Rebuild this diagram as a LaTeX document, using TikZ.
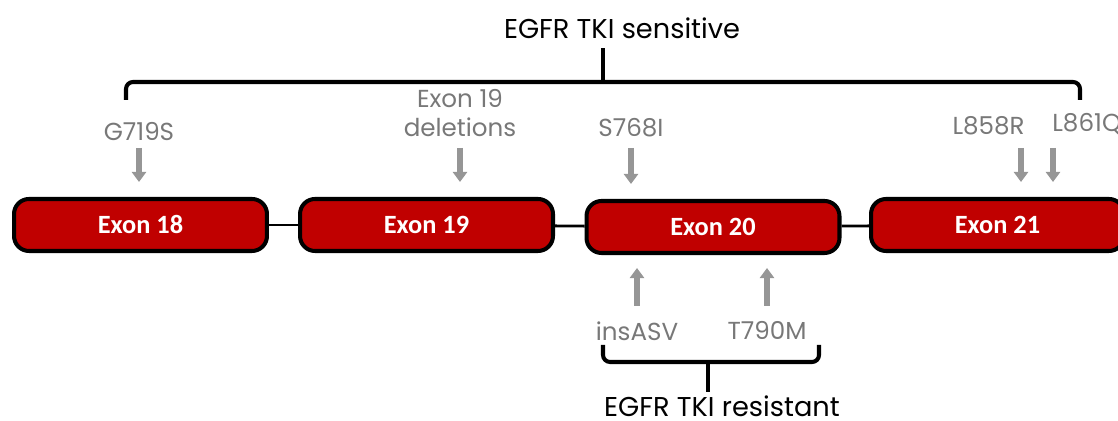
\documentclass[tikz,border=0pt]{standalone}
\usepackage{fontspec}
\setmainfont{Poppins}
\newfontfamily\exonfont{Carlito}
\usetikzlibrary{arrows.meta}
\definecolor{exonred}{RGB}{192,0,0}
\definecolor{mutgray}{RGB}{120,120,120}
\definecolor{arrowgray}{RGB}{150,150,150}

\begin{document}
\begin{tikzpicture}[x = 0.02cm, y = -0.02cm]
\tikzstyle{ExonStyle} = [shape = rectangle, rounded corners = 0.3cm, minimum width = 5.06cm, minimum height = 1.04cm, draw = black, line width = 2.3pt, fill = exonred, text = white, font = \exonfont\bfseries\fontsize{15}{18}\selectfont]
\tikzstyle{MutStyle} = [text = mutgray, font = \fontsize{14}{16.4}\selectfont, align = center, inner sep = 0pt]
\tikzstyle{HeadStyle} = [font = \fontsize{15.5}{18}\selectfont, inner sep = 0pt]
\tikzstyle{EdgeStyle} = [line width = 1.6pt]
\tikzstyle{BraceStyle} = [line width = 2.3pt, rounded corners = 4pt]
\tikzstyle{ArrowStyle} = [line width = 3pt, draw = arrowgray, -{Triangle[width = 0.28cm, length = 0.2cm]}]
\useasboundingbox (0,0) rectangle (1118,421);
% exons
\node[ExonStyle] (e18) at (140.5,225) {Exon 18};
\node[ExonStyle] (e19) at (426.5,225) {Exon 19};
\node[ExonStyle] (e20) at (713,227) {Exon 20};
\node[ExonStyle] (e21) at (997.5,225) {Exon 21};
\draw[EdgeStyle] (e18) -- (e19);
\draw[EdgeStyle] (e19) -- (e20);
\draw[EdgeStyle] (e20) -- (e21);
% mutations
\node[MutStyle, anchor = south] (g719s) at (139,141) {G719S};
\node[MutStyle, anchor = south] (del19) at (460,137) {Exon 19\\deletions};
\node[MutStyle, anchor = south] (s768i) at (631,137) {S768I};
\node[MutStyle, anchor = south east] (l858r) at (1025,135) {L858R};
\node[MutStyle, anchor = south west] (l861q) at (1052,135) {L861Q};
\node[MutStyle, anchor = north] (insasv) at (637,321) {insASV};
\node[MutStyle, anchor = north] (t790m) at (767,321) {T790M};
\draw[ArrowStyle, shorten < = 0.14cm, shorten > = 0.3cm] (g719s.south) -- (g719s.south |- e18.north);
\draw[ArrowStyle, shorten < = 0.22cm, shorten > = 0.3cm] (del19.south) -- (del19.south |- e19.north);
\draw[ArrowStyle, shorten < = 0.22cm, shorten > = 0.3cm] (s768i.south) -- (s768i.south |- e20.north);
\draw[ArrowStyle, shorten < = 0.26cm, shorten > = 0.3cm] ([xshift = -0.08cm]l858r.south east) -- ([xshift = -0.08cm]l858r.south east |- e21.north);
\draw[ArrowStyle, shorten < = 0.26cm, shorten > = 0.3cm] ([xshift = 0.02cm]l861q.south west) -- ([xshift = 0.02cm]l861q.south west |- e21.north);
\draw[ArrowStyle, shorten < = 0.3cm, shorten > = 0.26cm] (insasv.north) -- (insasv.north |- e20.south);
\draw[ArrowStyle, shorten < = 0.3cm, shorten > = 0.26cm] (t790m.north) -- (t790m.north |- e20.south);
% braces
\node[HeadStyle] (sens) at (622,28) {EGFR TKI sensitive};
\node[HeadStyle] (res) at (722,406) {EGFR TKI resistant};
\coordinate (sensL) at (126,100);
\coordinate (sensR) at (1080,100);
\coordinate (sensM) at (603,82);
\coordinate (resL) at (603,345);
\coordinate (resR) at (819,345);
\coordinate (resM) at (708,362);
\draw[BraceStyle] (sensL) -- (sensL |- sensM) -- (sensR |- sensM) -- (sensR);
\draw[BraceStyle] (sensM) -- ++(0,-34);
\draw[BraceStyle] (resL) -- (resL |- resM) -- (resR |- resM) -- (resR);
\draw[BraceStyle] (resM) -- ++(0,30);
\end{tikzpicture}
\end{document}
